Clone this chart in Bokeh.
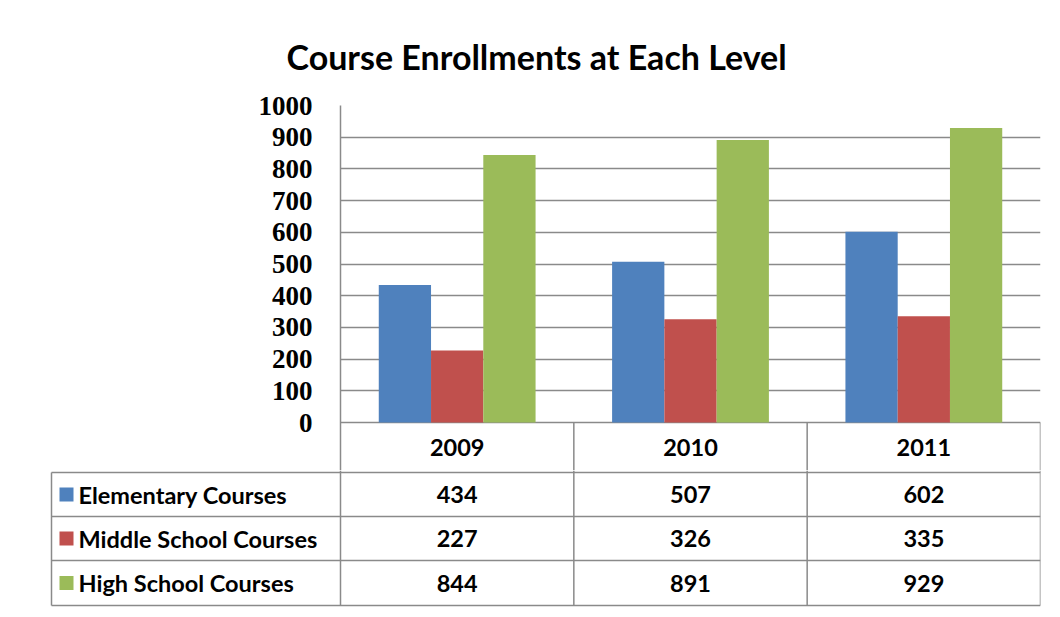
from bokeh.plotting import figure
from bokeh.models import FactorRange, Range1d, FixedTicker, ColumnDataSource
from bokeh.transform import dodge
from bokeh.core.properties import value
from bokeh.embed import file_html
from bokeh.resources import INLINE

# ---------------- data ----------------
years = ["2009", "2010", "2011"]
series_names = ["Elementary Courses", "Middle School Courses", "High School Courses"]
elementary = [434, 507, 602]
middle = [227, 326, 335]
high = [844, 891, 929]
colors = ["#4F81BD", "#C0504D", "#9BBB59"]
y_ticks = [0, 100, 200, 300, 400, 500, 600, 700, 800, 900, 1000]
title_text = "Course Enrollments at Each Level"

# ---------------- layout constants ----------------
GRID = "#8a8a8a"
SANS = "Lato"
TAB_FS = "23.5px"
BAR_W = 0.224
W = 1052
FRAME_L, FRAME_R = 340, 1040
PLOT_TOP, ZERO_Y, SPLIT_Y = 105, 422, 470      # px
COLW = (FRAME_R - FRAME_L) / len(years)        # px per category column
UNIT = (ZERO_Y - PLOT_TOP) / 1000.0            # px per value unit
HDR_BOTTOM = 472
ROW_EDGES = [472, 516, 560, 605]               # px, table rows
LEFT_PX = 51                                   # left edge of the table
n = len(years)

# ---------------- chart (with header row of the table) ----------------
src = ColumnDataSource(dict(year=years, elementary=elementary, middle=middle, high=high))

pa = figure(width=W, height=SPLIT_Y,
            x_range=FactorRange(*years),
            y_range=Range1d(-(SPLIT_Y - ZERO_Y) / UNIT, 1000),
            output_backend="svg", toolbar_location=None, x_axis_location=None,
            min_border_left=FRAME_L, min_border_right=W - FRAME_R,
            min_border_top=PLOT_TOP, min_border_bottom=0)
pa.outline_line_color = None
pa.xgrid.grid_line_color = None

keys = ["elementary", "middle", "high"]
for i, (k, c) in enumerate(zip(keys, colors)):
    pa.vbar(x=dodge("year", (i - 1) * BAR_W, range=pa.x_range), top=k, width=BAR_W,
            source=src, fill_color=c, line_color=None)

pa.yaxis.ticker = FixedTicker(ticks=y_ticks)
pa.yaxis.major_label_text_font = "Liberation Serif"
pa.yaxis.major_label_text_font_style = "bold"
pa.yaxis.major_label_text_font_size = "27px"
pa.yaxis.major_label_text_color = "black"
pa.yaxis.major_label_standoff = 22
pa.yaxis.major_tick_line_color = None
pa.yaxis.minor_tick_line_color = None
pa.yaxis.axis_line_color = GRID
pa.yaxis.axis_line_width = 1.5

pa.ygrid.ticker = FixedTicker(ticks=y_ticks)
pa.ygrid.grid_line_color = GRID
pa.ygrid.grid_line_width = 1.5

pa.title.text = title_text
pa.title.text_font = SANS
pa.title.text_font_style = "bold"
pa.title.text_font_size = "34px"
pa.title.text_color = "black"
pa.title.align = "left"
pa.title.offset = 286 - FRAME_L
pa.title.standoff = 57

# header row: column separators and year labels
y_low = -(SPLIT_Y - ZERO_Y) / UNIT
pa.segment(x0=list(range(1, n + 1)), x1=list(range(1, n + 1)), y0=[0] * n, y1=[y_low] * n,
           line_color=GRID, line_width=1.5)
hdr_mid = -((HDR_BOTTOM - ZERO_Y) / 2) / UNIT
pa.text(x=years, y=[hdr_mid] * n, text=years,
        text_font=value(SANS), text_font_style="bold", text_font_size=TAB_FS,
        text_align="center", text_baseline="middle", text_color="black")

# ---------------- data table body ----------------
HB = 609 - SPLIT_Y
pb = figure(width=W, height=HB,
            x_range=Range1d(-FRAME_L / COLW, n), y_range=Range1d(-HB, 0),
            output_backend="svg", toolbar_location=None,
            x_axis_location=None, y_axis_location=None,
            min_border_left=0, min_border_right=W - FRAME_R,
            min_border_top=0, min_border_bottom=0)
pb.outline_line_color = None
pb.grid.visible = False

def ty(px):
    return -(px - SPLIT_Y)

x_tab = (LEFT_PX - FRAME_L) / COLW
# horizontal lines
hy = [ty(e) for e in ROW_EDGES]
pb.segment(x0=[x_tab] * len(hy), x1=[n] * len(hy), y0=hy, y1=hy, line_color=GRID, line_width=1.5)
# vertical lines
vx = [x_tab] + list(range(n + 1))
vy0 = [ty(ROW_EDGES[0])] + [0] * (n + 1)
vy1 = [ty(ROW_EDGES[-1])] * (n + 2)
pb.segment(x0=vx, x1=vx, y0=vy0, y1=vy1, line_color=GRID, line_width=1.5)

series_values = [elementary, middle, high]
row_mid = [(ty(ROW_EDGES[r]) + ty(ROW_EDGES[r + 1])) / 2 for r in range(len(series_names))]
# legend keys and series names
pb.rect(x=[x_tab + 15 / COLW] * 3, y=row_mid, width=14, height=14,
        width_units="screen", height_units="screen", fill_color=colors, line_color=None)
pb.text(x=[x_tab + 27 / COLW] * 3, y=row_mid, text=series_names,
        text_font=value(SANS), text_font_style="bold", text_font_size=TAB_FS,
        text_align="left", text_baseline="middle", text_color="black")
# values
tx, tyy, tt = [], [], []
for r, vals in enumerate(series_values):
    for i, v in enumerate(vals):
        tx.append(i + 0.5); tyy.append(row_mid[r]); tt.append(str(v))
pb.text(x=tx, y=tyy, text=tt, text_font=value(SANS), text_font_style="bold",
        text_font_size=TAB_FS, text_align="center", text_baseline="middle",
        text_color="black")

open("out.html", "w").write(file_html([pa, pb], INLINE))
